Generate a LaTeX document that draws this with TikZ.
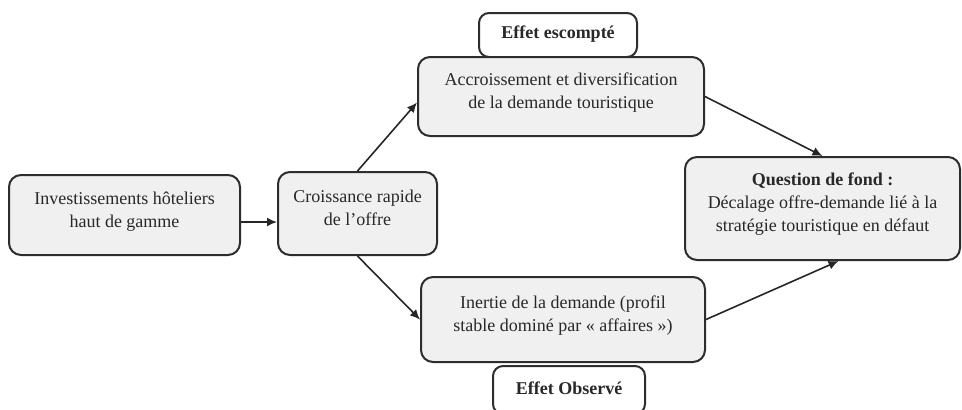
\documentclass[tikz,border=0pt]{standalone}
\usepackage{fontspec}
\setmainfont{Liberation Serif}
\usetikzlibrary{arrows.meta}
\definecolor{boxfill}{RGB}{240,240,240}
\definecolor{boxline}{RGB}{45,45,45}
\definecolor{txt}{RGB}{40,40,40}
\begin{document}
\begin{tikzpicture}[x=0.5pt,y=-0.5pt,
  every node/.style={font=\fontsize{9pt}{11.5pt}\selectfont, text=txt, align=center, inner sep=0pt},
  mainbox/.style={draw=boxline, line width=1pt, fill=boxfill, rounded corners=6pt},
  tagbox/.style={draw=boxline, line width=1pt, fill=white, rounded corners=5pt, font=\fontsize{9pt}{11.5pt}\selectfont\bfseries},
  conn/.style={draw=black!85, line width=0.8pt, -{Latex[length=5pt,width=4.5pt]}}]
\useasboundingbox (0,0) rectangle (962,409);
% tag boxes (behind main boxes)
\node[tagbox, minimum width=79pt, minimum height=22pt, anchor=north] (tagC) at (558,12) {\raisebox{3pt}{Effet escompté}};
\node[tagbox, minimum width=76pt, minimum height=24pt, anchor=north] (tagD) at (569,365) {\raisebox{2pt}{Effet Observé}};
% main boxes
\node[mainbox, minimum width=115.5pt, minimum height=40pt] (A) at (124.5,215) {Investissements hôteliers\\haut de gamme\\[-6pt]};
\node[mainbox, minimum width=79.5pt, minimum height=41.5pt] (B) at (357.5,213.5) {Croissance rapide\\de l’offre\\[-6pt]};
\node[mainbox, minimum width=143pt, minimum height=39.5pt] (C) at (561,96.5) {Accroissement et diversification\\de la demande touristique\\[-6pt]};
\node[mainbox, minimum width=142pt, minimum height=42.5pt] (D) at (563,319.5) {Inertie de la demande (profil\\stable dominé par « affaires »)\\[-6pt]};
\node[mainbox, minimum width=137.5pt, minimum height=51.5pt] (E) at (822.5,208.5) {\textbf{Question de fond :}\\Décalage offre-demande lié à la\\stratégie touristique en défaut\\[-5.5pt]};
% connectors
\draw[conn] (A.east |- 0,222) -- (B.west |- 0,222);
\draw[conn] (B.north) -- ([yshift=-3]C.west);
\draw[conn] (B.south) -- (D.west);
\draw[conn] (C.east) -- (E.north);
\draw[conn] (D.east) -- ([xshift=8]E.south);
\end{tikzpicture}
\end{document}
